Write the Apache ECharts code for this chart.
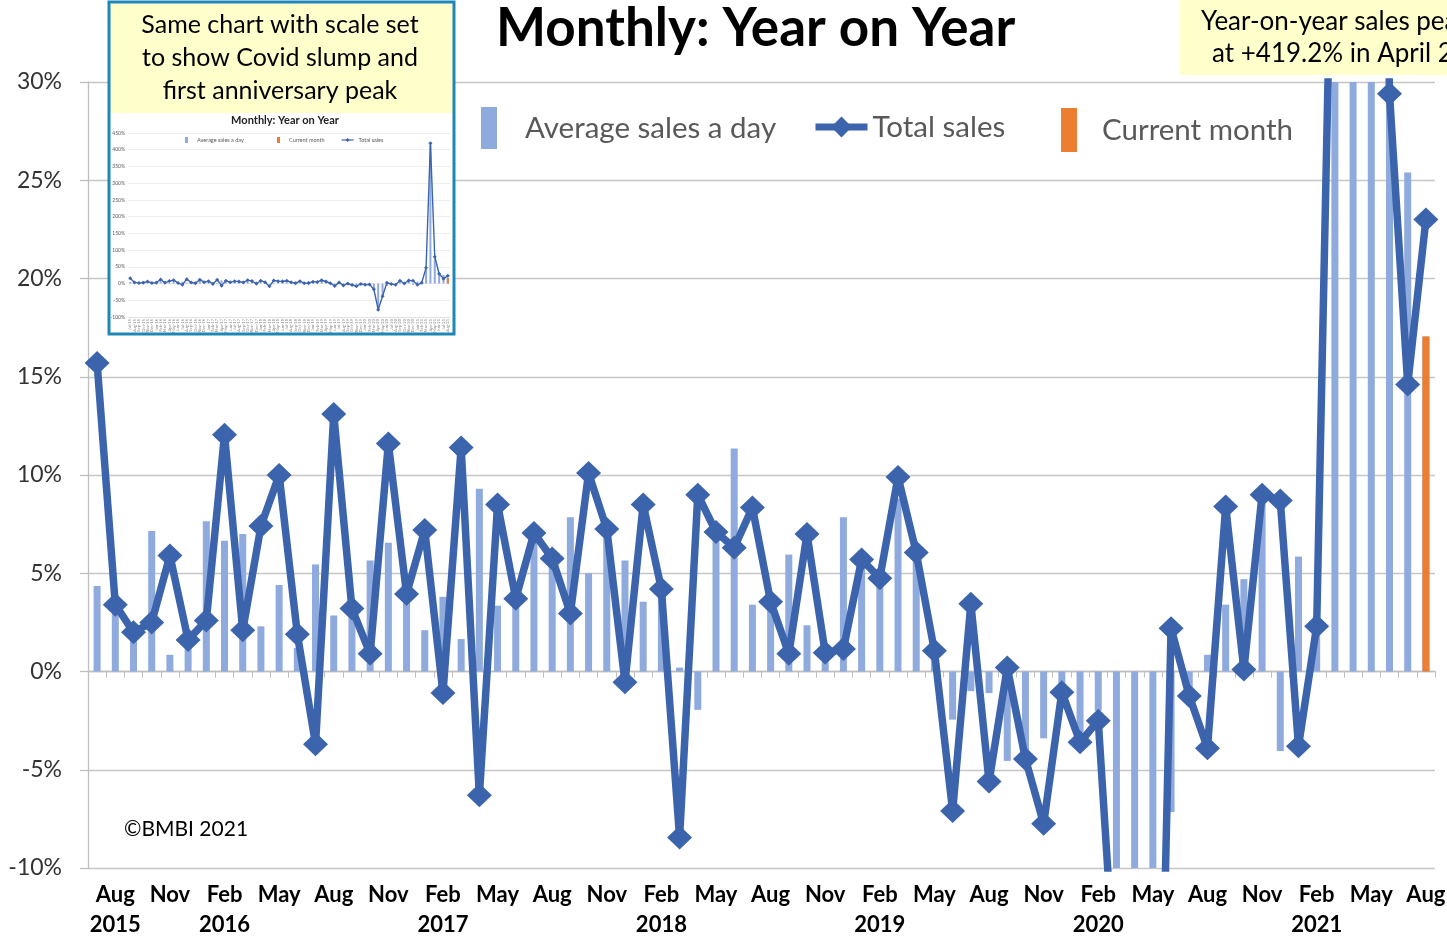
<!DOCTYPE html>
<html>
<head>
<meta charset="utf-8">
<style>
  html, body { margin: 0; padding: 0; background: #fff; }
  #main { width: 1447px; height: 937px; }
</style>
<script src="https://cdn.jsdelivr.net/npm/echarts@6/dist/echarts.min.js"></script>
</head>
<body>
<div id="main"></div>
<script>
// categories: one per month, Jul 2015 .. Aug 2021
var months = [
  'Jul 2015','Aug 2015','Sep 2015','Oct 2015','Nov 2015','Dec 2015',
  'Jan 2016','Feb 2016','Mar 2016','Apr 2016','May 2016','Jun 2016','Jul 2016','Aug 2016','Sep 2016','Oct 2016','Nov 2016','Dec 2016',
  'Jan 2017','Feb 2017','Mar 2017','Apr 2017','May 2017','Jun 2017','Jul 2017','Aug 2017','Sep 2017','Oct 2017','Nov 2017','Dec 2017',
  'Jan 2018','Feb 2018','Mar 2018','Apr 2018','May 2018','Jun 2018','Jul 2018','Aug 2018','Sep 2018','Oct 2018','Nov 2018','Dec 2018',
  'Jan 2019','Feb 2019','Mar 2019','Apr 2019','May 2019','Jun 2019','Jul 2019','Aug 2019','Sep 2019','Oct 2019','Nov 2019','Dec 2019',
  'Jan 2020','Feb 2020','Mar 2020','Apr 2020','May 2020','Jun 2020','Jul 2020','Aug 2020','Sep 2020','Oct 2020','Nov 2020','Dec 2020',
  'Jan 2021','Feb 2021','Mar 2021','Apr 2021','May 2021','Jun 2021','Jul 2021','Aug 2021'
];

// year on year %, average sales a day (bars)
var avgSalesDay = [
  4.35, 3.1, 2.4, 7.15, 0.85, 1.3,
  7.65, 6.65, 7.0, 2.3, 4.4, 1.2, 5.45, 2.85, 3.0, 5.65, 6.55, 3.5,
  2.1, 3.8, 1.65, 9.3, 3.35, 3.5, 6.6, 5.4, 7.85, 5.0, 6.8, 5.65,
  3.55, 3.8, 0.2, -1.95, 6.7, 11.35, 3.4, 3.3, 5.95, 2.35, 0.5, 7.85,
  5.25, 4.6, 8.8, 5.8, 0.8, -2.45, -1.0, -1.1, -4.55, -4.0, -3.4, -1.2,
  -3.1, -2.0, -20, -76, -35, -7.15, -1.0, 0.85, 3.4, 4.7, 8.8, -4.05,
  5.85, 2.4, 43, 415, 75, 32, 25.4, 17.05
];

// year on year %, total sales (line)
var totalSales = [
  15.7, 3.4, 2.0, 2.5, 5.9, 1.6,
  2.6, 12.05, 2.1, 7.4, 10.0, 1.9, -3.7, 13.1, 3.2, 0.9, 11.6, 3.95,
  7.2, -1.1, 11.4, -6.3, 8.5, 3.7, 7.05, 5.75, 2.95, 10.1, 7.25, -0.55,
  8.5, 4.2, -8.45, 9.0, 7.1, 6.3, 8.35, 3.55, 0.9, 7.0, 0.95, 1.15,
  5.7, 4.75, 9.9, 6.05, 1.05, -7.1, 3.45, -5.6, 0.2, -4.45, -7.75, -1.05,
  -3.6, -2.5, -17, -78, -38, 2.2, -1.25, -3.9, 8.4, 0.1, 9.0, 8.7,
  -3.8, 2.3, 47, 419.2, 80, 29.4, 14.6, 23.0
];

// the current month, highlighted in orange
var currentMonth = [['Aug 2021', 17.05]];

var FONT = 'Lato, "Noto Sans", sans-serif';
var BLUE = '#3c64ad';
var LIGHT = '#8faadc';
var ORANGE = '#ed7d31';

var chart = echarts.init(document.getElementById('main'));

function monthLabel(value, index) {
    var p = value.split(' ');
    if (index === 1 || p[0] === 'Feb') return p[0] + '\n' + p[1];
    return p[0];
}

var option = {
    backgroundColor: '#fff',
    animation: false,
    title: [{
        text: 'Monthly: Year on Year',
        left: 496, top: 2, padding: 0,
        textStyle: { fontFamily: FONT, fontSize: 53, fontWeight: 'bold', color: '#000' }
    }, {
        text: 'Monthly: Year on Year',
        left: 285, top: 115, padding: 0, textAlign: 'center', z: 6,
        textStyle: { fontFamily: FONT, fontSize: 11, fontWeight: 'bold', color: '#222' }
    }],
    legend: [{
        data: ['Average sales a day'], selectedMode: false,
        left: 481, top: 107, padding: 0, icon: 'rect', itemWidth: 16, itemHeight: 42,
        textStyle: { fontFamily: FONT, fontSize: 29.5, color: '#595959', padding: [0, 0, 0, 23] }
    }, {
        data: ['Total sales'], selectedMode: false,
        left: 812, top: 112, padding: 0, itemWidth: 52, itemHeight: 26,
        lineStyle: { width: 7 },
        textStyle: { fontFamily: FONT, fontSize: 29.5, color: '#595959' }
    }, {
        data: ['Current month'], selectedMode: false,
        left: 1061, top: 108, padding: 0, icon: 'rect', itemWidth: 16, itemHeight: 44,
        textStyle: { fontFamily: FONT, fontSize: 29.5, color: '#595959', padding: [0, 0, 0, 20] }
    }, {
        data: ['Average sales a day'], selectedMode: false, z: 6,
        left: 185, top: 137, padding: 0, icon: 'rect', itemWidth: 3, itemHeight: 6,
        textStyle: { fontFamily: FONT, fontSize: 5.5, color: '#595959', padding: [0, 0, 0, 4] }
    }, {
        data: ['Current month'], selectedMode: false, z: 6,
        left: 277, top: 137, padding: 0, icon: 'rect', itemWidth: 3, itemHeight: 6,
        textStyle: { fontFamily: FONT, fontSize: 5.5, color: '#595959', padding: [0, 0, 0, 4] }
    }, {
        data: ['Total sales'], selectedMode: false, z: 6,
        left: 341, top: 137, padding: 0, itemWidth: 12, itemHeight: 5,
        lineStyle: { width: 1.2 },
        textStyle: { fontFamily: FONT, fontSize: 5.5, color: '#595959' }
    }],
    grid: [
        { left: 88, right: 12, top: 82, bottom: 69, outerBoundsMode: 'none' },
        { left: 128, top: 133, width: 322, height: 184, outerBoundsMode: 'none' }
    ],
    xAxis: [{
        type: 'category', gridIndex: 0, data: months, position: 'bottom',
        axisLine: { onZero: true, lineStyle: { color: '#bfbfbf', width: 1.3 } },
        axisTick: { show: true, interval: 0, length: 6, lineStyle: { color: '#bfbfbf' } },
        axisLabel: { show: false },
        splitLine: { show: false }
    }, {
        type: 'category', gridIndex: 0, data: months, position: 'bottom',
        axisLine: { show: false, onZero: false },
        axisTick: { show: false },
        axisLabel: {
            interval: function (i) { return i % 3 === 1; },
            formatter: monthLabel,
            margin: 12, lineHeight: 30,
            fontFamily: FONT, fontSize: 22, fontWeight: 'bold', color: '#000'
        }
    }, {
        type: 'category', gridIndex: 1, data: months, position: 'bottom', z: 4,
        axisLine: { onZero: false, lineStyle: { color: '#d9d9d9', width: 0.6 } },
        axisTick: { show: false },
        axisLabel: {
            interval: 0, rotate: 90, margin: 2,
            fontFamily: FONT, fontSize: 4, color: '#888',
            formatter: function (v) { var p = v.split(' '); return p[0] + '-' + p[1].slice(2); }
        }
    }],
    yAxis: [{
        type: 'value', gridIndex: 0, min: -10, max: 30, interval: 5,
        axisLine: { show: true, lineStyle: { color: '#bfbfbf', width: 1.3 } },
        axisTick: { show: true, length: 8, lineStyle: { color: '#bfbfbf', width: 1.3 } },
        axisLabel: { formatter: '{value}%', margin: 26, fontFamily: FONT, fontSize: 23, color: '#333' },
        splitLine: { lineStyle: { color: '#c6c6c6', width: 1.3 } }
    }, {
        type: 'value', gridIndex: 1, min: -100, max: 450, interval: 50, z: 4,
        axisLine: { show: false },
        axisTick: { show: false },
        axisLabel: { formatter: '{value}%', margin: 3, fontFamily: FONT, fontSize: 5, color: '#595959' },
        splitLine: { lineStyle: { color: '#e2e2e2', width: 0.6 } }
    }],
    series: [{
        name: 'Average sales a day', type: 'bar', xAxisIndex: 0, yAxisIndex: 0,
        data: avgSalesDay, barWidth: 7, barGap: '-100%',
        itemStyle: { color: LIGHT }
    }, {
        name: 'Current month', type: 'bar', xAxisIndex: 0, yAxisIndex: 0,
        data: currentMonth, barWidth: 7, barGap: '-100%',
        itemStyle: { color: ORANGE }
    }, {
        name: 'Total sales', type: 'line', xAxisIndex: 0, yAxisIndex: 0,
        data: totalSales, symbol: 'diamond', symbolSize: [25, 24],
        showSymbol: true, showAllSymbol: true,
        lineStyle: { color: BLUE, width: 7.5 },
        itemStyle: { color: BLUE }
    }, {
        name: 'Average sales a day', type: 'bar', xAxisIndex: 2, yAxisIndex: 1, z: 5,
        data: avgSalesDay, barWidth: 2, barGap: '-100%',
        itemStyle: { color: LIGHT }
    }, {
        name: 'Current month', type: 'bar', xAxisIndex: 2, yAxisIndex: 1, z: 5,
        data: currentMonth, barWidth: 2, barGap: '-100%',
        itemStyle: { color: ORANGE }
    }, {
        name: 'Total sales', type: 'line', xAxisIndex: 2, yAxisIndex: 1, z: 6,
        data: totalSales, symbol: 'diamond', symbolSize: 4,
        showSymbol: true, showAllSymbol: true,
        lineStyle: { color: BLUE, width: 1.4 },
        itemStyle: { color: BLUE }
    }],
    graphic: { elements: [
        // inset picture background
        { type: 'rect', z: 3, shape: { x: 109, y: 2, width: 345, height: 332 }, style: { fill: '#fff' } },
        { type: 'rect', z: 3, shape: { x: 110, y: 4, width: 343, height: 109 }, style: { fill: '#ffffcc' } },
        { type: 'text', z: 7, x: 280, y: 25, style: { text: 'Same chart with scale set', fontFamily: FONT, fontSize: 25, fill: '#000', align: 'center', verticalAlign: 'middle' } },
        { type: 'text', z: 7, x: 280, y: 58, style: { text: 'to show Covid slump and', fontFamily: FONT, fontSize: 25, fill: '#000', align: 'center', verticalAlign: 'middle' } },
        { type: 'text', z: 7, x: 280, y: 91, style: { text: 'first anniversary peak', fontFamily: FONT, fontSize: 25, fill: '#000', align: 'center', verticalAlign: 'middle' } },
        { type: 'rect', z: 10, shape: { x: 109, y: 2, width: 345, height: 332 }, style: { fill: null, stroke: '#1f87b6', lineWidth: 3 } },
        // note on the peak, cut off by the right edge
        { type: 'rect', z: 3, shape: { x: 1180, y: 0, width: 267, height: 75 }, style: { fill: '#ffffcc' } },
        { type: 'text', z: 7, x: 1201, y: 22, style: { text: 'Year-on-year sales peaked', fontFamily: FONT, fontSize: 26, fill: '#000', verticalAlign: 'middle' } },
        { type: 'text', z: 7, x: 1212, y: 54, style: { text: 'at +419.2% in April 2021', fontFamily: FONT, fontSize: 26, fill: '#000', verticalAlign: 'middle' } },
        { type: 'text', z: 7, x: 124, y: 829, style: { text: '\u00a9BMBI 2021', fontFamily: FONT, fontSize: 21, fill: '#000', verticalAlign: 'middle' } }
    ] }
};

chart.setOption(option);
</script>
</body>
</html>
